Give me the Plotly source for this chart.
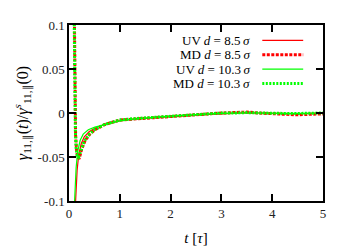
import plotly.graph_objects as go

# ---- data ----
t_uv85 = [0.13, 0.14, 0.16, 0.19, 0.24, 0.30, 0.40, 0.52, 0.70, 1.0, 1.25, 1.5, 1.75, 2.0, 2.25, 2.5, 2.75, 3.0, 3.25, 3.5, 3.75, 4.0, 4.25, 4.5, 4.75, 5.0]
y_uv85 = [-0.1, -0.085, -0.065, -0.048, -0.035, -0.027, -0.021, -0.017, -0.013, -0.009, -0.007, -0.006, -0.005, -0.004, -0.003, -0.002, -0.0015, -0.001, 0.0, 0.0005, 0.0, -0.0005, -0.001, -0.001, -0.0005, -0.0005]

t_md85 = [0.09, 0.10, 0.11, 0.12, 0.13, 0.15, 0.17, 0.20, 0.25, 0.32, 0.41, 0.51, 0.71, 1.0, 1.25, 1.5, 1.75, 2.0, 2.25, 2.5, 2.75, 3.0, 3.25, 3.5, 3.75, 4.0, 4.25, 4.5, 4.75, 5.0]
y_md85 = [0.2, 0.12, 0.06, 0.01, -0.025, -0.043, -0.05, -0.052, -0.041, -0.031, -0.024, -0.019, -0.013, -0.008, -0.007, -0.006, -0.005, -0.0035, -0.003, -0.002, -0.001, 0.0, 0.0005, 0.001, 0.0, -0.001, -0.0015, -0.002, -0.0015, -0.001]

t_uv103 = [0.11, 0.12, 0.14, 0.17, 0.22, 0.28, 0.38, 0.51, 0.70, 1.0, 1.25, 1.5, 1.75, 2.0, 2.25, 2.5, 2.75, 3.0, 3.25, 3.5, 3.75, 4.0, 4.25, 4.5, 4.75, 5.0]
y_uv103 = [-0.1, -0.085, -0.0625, -0.044, -0.031, -0.024, -0.019, -0.016, -0.013, -0.009, -0.007, -0.0055, -0.0045, -0.0035, -0.0025, -0.0015, -0.001, -0.0005, 0.0, 0.0, 0.0, -0.0005, -0.0005, -0.0005, 0.0, 0.0]

t_md103 = [0.085, 0.095, 0.105, 0.115, 0.125, 0.14, 0.16, 0.19, 0.24, 0.30, 0.40, 0.50, 0.70, 1.0, 1.25, 1.5, 1.75, 2.0, 2.25, 2.5, 2.75, 3.0, 3.25, 3.5, 3.75, 4.0, 4.25, 4.5, 4.75, 5.0]
y_md103 = [0.2, 0.13, 0.07, 0.02, -0.02, -0.04, -0.048, -0.05, -0.042, -0.032, -0.024, -0.019, -0.013, -0.008, -0.0065, -0.0055, -0.0045, -0.0035, -0.0025, -0.0015, -0.001, 0.0, 0.0, 0.0005, 0.0, -0.0005, -0.0005, -0.0005, 0.0, 0.0]

x_ticks = [0, 1, 2, 3, 4, 5]
y_ticks = [-0.1, -0.05, 0, 0.05, 0.1]
y_tick_text = ["-0.1", "-0.05", "0", "0.05", "0.1"]

legend_labels = ["UV <i>d</i> = 8.5\u2009<i>σ</i>", "MD <i>d</i> = 8.5\u2009<i>σ</i>",
                 "UV <i>d</i> = 10.3\u2009<i>σ</i>", "MD <i>d</i> = 10.3\u2009<i>σ</i>"]

RED = "#ff0000"
GREEN = "#00ff00"
FONT = "Liberation Serif"

styles = [
    dict(color=RED, width=1.2, dash="solid"),
    dict(color=RED, width=3, dash="3px,1.5px"),
    dict(color=GREEN, width=1.2, dash="solid"),
    dict(color=GREEN, width=3, dash="2px,1.5px"),
]
series = [(t_uv85, y_uv85), (t_md85, y_md85), (t_uv103, y_uv103), (t_md103, y_md103)]

fig = go.Figure()
for (tx, ty), st, lab in zip(series, styles, legend_labels):
    fig.add_trace(go.Scatter(x=tx, y=ty, mode="lines", line=st, name=lab,
                             showlegend=False))

# manual legend (text right-aligned, sample to the right)
rows_y = [0.913, 0.831, 0.749, 0.667]
for lab, st, yy in zip(legend_labels, styles, rows_y):
    fig.add_annotation(x=0.722, y=yy, xref="paper", yref="paper", text=lab,
                       showarrow=False, xanchor="right", yanchor="middle",
                       font=dict(family=FONT, size=13, color="black"))
    fig.add_shape(type="line", xref="paper", yref="paper",
                  x0=0.761, x1=0.922, y0=yy, y1=yy, line=st)

axis_common = dict(showline=True, linecolor="black", linewidth=1.5, mirror="ticks",
                   ticks="inside", ticklen=7, tickwidth=1.5, tickcolor="black",
                   showgrid=False, zeroline=False,
                   tickfont=dict(family=FONT, size=13, color="#222"))

fig.update_xaxes(range=[0, 5], tickvals=x_ticks, ticktext=[str(v) for v in x_ticks],
                 title=dict(text="<i>t</i> [<i>τ</i>]", font=dict(family=FONT, size=15, color="black"),
                            standoff=12),
                 **axis_common)
fig.update_yaxes(range=[-0.1, 0.1], tickvals=y_ticks, ticktext=y_tick_text,
                 title=dict(text="<i>γ</i><sub>11,∥</sub>(<i>t</i>)/<i>γ</i><sup><i>s</i></sup><sub>11,∥</sub>(0)",
                            font=dict(family=FONT, size=16, color="black"), standoff=5),
                 **axis_common)

fig.update_layout(width=350, height=250, margin=dict(l=61, r=35, t=10, b=57),
                  plot_bgcolor="white", paper_bgcolor="white",
                  font=dict(family=FONT, size=13, color="black"))

fig.write_html("out.html")
